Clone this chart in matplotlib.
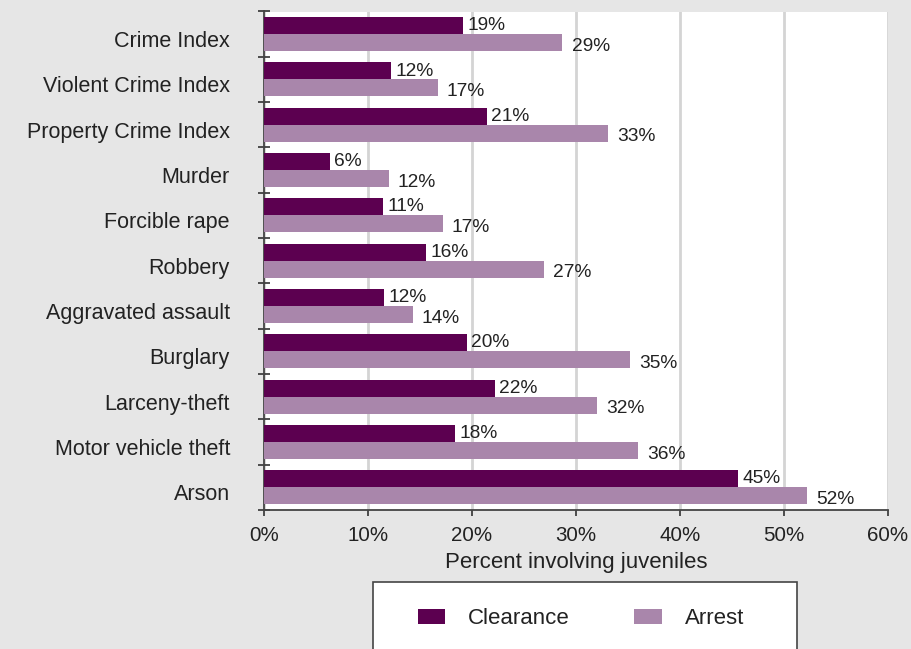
import matplotlib
matplotlib.use("Agg")
import matplotlib.pyplot as plt
from matplotlib.patches import Rectangle
from matplotlib.transforms import ScaledTranslation
import numpy as np

plt.rcParams['font.family'] = ['Liberation Sans', 'DejaVu Sans']

categories = ["Crime Index", "Violent Crime Index", "Property Crime Index", "Murder",
              "Forcible rape", "Robbery", "Aggravated assault", "Burglary",
              "Larceny-theft", "Motor vehicle theft", "Arson"]
clearance = [19.1, 12.2, 21.4, 6.3, 11.4, 15.6, 11.5, 19.5, 22.2, 18.4, 45.6]
arrest = [28.7, 16.7, 33.1, 12.0, 17.2, 26.9, 14.3, 35.2, 32.0, 36.0, 52.2]
clearance_labels = ["19%", "12%", "21%", "6%", "11%", "16%", "12%", "20%", "22%", "18%", "45%"]
arrest_labels = ["29%", "17%", "33%", "12%", "17%", "27%", "14%", "35%", "32%", "36%", "52%"]
xticks = [0, 10, 20, 30, 40, 50, 60]
xtick_labels = ["0%", "10%", "20%", "30%", "40%", "50%", "60%"]

W, H = 912, 649
fig = plt.figure(figsize=(W / 100, H / 100), dpi=100)
fig.patch.set_facecolor("#e6e6e6")

ax = fig.add_axes([264 / W, 1 - 510 / H, (888 - 264) / W, (510 - 11.5) / H])
ax.set_facecolor("white")

c_col = "#5c0050"
a_col = "#a986ab"
txt_col = "#222222"

y = np.arange(len(categories))
h = 0.375
b1 = ax.barh(y - h / 2, clearance, height=h, color=c_col, label="Clearance", zorder=3)
b2 = ax.barh(y + h / 2, arrest, height=h, color=a_col, label="Arrest", zorder=3)

for yi, v, lab in zip(y, clearance, clearance_labels):
    ax.text(v + 0.43, yi - h / 2 + 0.10, lab, va="baseline", ha="left", fontsize=13.8,
            color=txt_col, zorder=4)
for yi, v, lab in zip(y, arrest, arrest_labels):
    ax.text(v + 0.87, yi + h / 2 + 0.18, lab, va="baseline", ha="left", fontsize=13.8,
            color=txt_col, zorder=4)

ax.set_xlim(0, 60)
ax.set_ylim(len(categories) - 0.5, -0.5)
ax.set_xticks(xticks)
ax.set_xticklabels(xtick_labels, fontsize=14.8, color=txt_col)
ax.set_yticks(y)
ax.set_yticklabels(categories, fontsize=15.5, color=txt_col)
ax.set_yticks(np.arange(len(categories) + 1) - 0.5, minor=True)
ax.tick_params(axis="y", which="major", length=0, pad=24.5)
ax.tick_params(axis="y", which="minor", length=9, direction="inout", width=1.2, color="#333333")
ax.tick_params(axis="x", which="major", length=4, direction="out", width=1.2, color="#333333", pad=7.5)
shift = ScaledTranslation(0, -5 / 100, fig.dpi_scale_trans)
for lab in ax.get_yticklabels():
    lab.set_transform(lab.get_transform() + shift)
ax.xaxis.grid(True, color="#d4d4d4", linewidth=2, zorder=0)
ax.set_axisbelow(True)
for s in ["top", "right"]:
    ax.spines[s].set_visible(False)
for s in ["left", "bottom"]:
    ax.spines[s].set_color("#444444")
    ax.spines[s].set_linewidth(1.3)
ax.set_xlabel("Percent involving juveniles", fontsize=16, color=txt_col, labelpad=5)

# legend box
rect = Rectangle((373 / W, -0.02), (797 - 373) / W, (1 - 582 / H) + 0.02, transform=fig.transFigure,
                 facecolor="white", edgecolor="#444444", linewidth=1.2, zorder=1)
fig.patches.append(rect)
leg = fig.legend(handles=[b1, b2], labels=["Clearance", "Arrest"], loc="center",
                 bbox_to_anchor=(581 / W, 1 - 619 / H), ncol=2, frameon=False,
                 fontsize=16, handlelength=1.22, handleheight=0.63, handletextpad=1.06,
                 columnspacing=2.9, labelcolor=txt_col)
leg.set_zorder(2)

fig.savefig("out.png", dpi=100, facecolor=fig.get_facecolor())
